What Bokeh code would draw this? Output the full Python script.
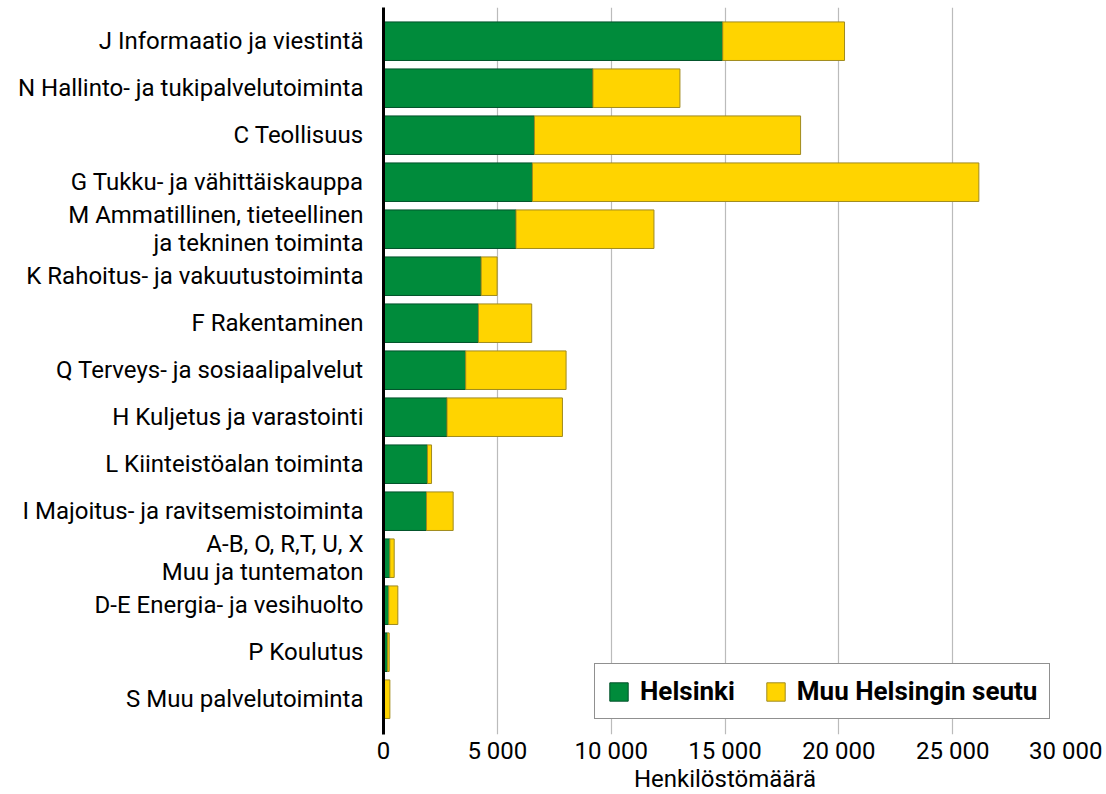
from bokeh.plotting import figure
from bokeh.models import ColumnDataSource, FixedTicker, Range1d, CustomJSTickFormatter
from bokeh.embed import file_html
from bokeh.resources import INLINE

categories = [
    "J Informaatio ja viestintä",
    "N Hallinto- ja tukipalvelutoiminta",
    "C Teollisuus",
    "G Tukku- ja vähittäiskauppa",
    "M Ammatillinen, tieteellinen\nja tekninen toiminta",
    "K Rahoitus- ja vakuutustoiminta",
    "F Rakentaminen",
    "Q Terveys- ja sosiaalipalvelut",
    "H Kuljetus ja varastointi",
    "L Kiinteistöalan toiminta",
    "I Majoitus- ja ravitsemistoiminta",
    "A-B, O, R,T, U, X\nMuu ja tuntematon",
    "D-E Energia- ja vesihuolto",
    "P Koulutus",
    "S Muu palvelutoiminta",
]
helsinki = [14900, 9200, 6630, 6540, 5820, 4290, 4170, 3610, 2790, 1930, 1890, 280, 230, 175, 30]
muu_seutu = [5350, 3820, 11690, 19610, 6060, 700, 2340, 4410, 5070, 180, 1170, 190, 400, 75, 250]
x_ticks = [0, 5000, 10000, 15000, 20000, 25000, 30000]

n = len(categories)
ypos = [n - 1 - i for i in range(n)]
source = ColumnDataSource(dict(y=ypos, hel=helsinki, muu=muu_seutu))

FONT = "Roboto"
FS = "24px"

p = figure(
    output_backend="svg", toolbar_location=None,
    frame_width=683, frame_height=727,
    min_border_left=383, min_border_right=36, min_border_top=7, min_border_bottom=52,
    x_range=Range1d(0, 30000), y_range=Range1d(-0.751, n - 1 + 0.717),
)
p.outline_line_color = None

p.hbar_stack(["hel", "muu"], y="y", height=0.82, source=source,
             fill_color=["#008B3B", "#FFD400"], line_color=["#00522A", "#A08A1E"],
             line_width=1, legend_label=["Helsinki", "Muu Helsingin seutu"])

# x axis
p.xaxis.ticker = FixedTicker(ticks=x_ticks)
p.xaxis.formatter = CustomJSTickFormatter(code="return tick == 0 ? '0' : (Math.floor(tick/1000) + ' 000');")
p.xaxis.axis_line_color = None
p.xaxis.major_tick_line_color = None
p.xaxis.minor_tick_line_color = None
p.xaxis.major_label_text_font = FONT
p.xaxis.major_label_text_font_size = FS
p.xaxis.major_label_text_color = "black"
p.xaxis.major_label_standoff = -4
p.xaxis.axis_label = "Henkilöstömäärä"
p.xaxis.axis_label_text_font = FONT
p.xaxis.axis_label_text_font_size = FS
p.xaxis.axis_label_text_font_style = "normal"
p.xaxis.axis_label_text_color = "black"
p.xaxis.axis_label_standoff = -3

# y axis
p.yaxis.ticker = FixedTicker(ticks=ypos)
p.yaxis.major_label_overrides = {y: c for y, c in zip(ypos, categories)}
p.yaxis.axis_line_color = "black"
p.yaxis.axis_line_width = 3
p.yaxis.major_tick_line_color = None
p.yaxis.minor_tick_line_color = None
p.yaxis.major_label_text_font = FONT
p.yaxis.major_label_text_font_size = FS
p.yaxis.major_label_text_color = "black"
p.yaxis.major_label_text_line_height = 0.98
p.yaxis.major_label_standoff = 14

p.xgrid.grid_line_color = "#BBBBBB"
p.xgrid.grid_line_width = 1.2
p.ygrid.grid_line_color = None

lg = p.legend[0]
lg.orientation = "horizontal"
lg.location = (211, 15)
lg.label_text_font = FONT
lg.label_text_font_size = "26px"
lg.label_text_font_style = "bold"
lg.label_text_color = "black"
lg.glyph_width = 23
lg.glyph_height = 23
lg.label_standoff = 10
lg.spacing = 29
lg.padding = 12
lg.margin = 0
lg.border_line_color = "#222222"
lg.border_line_width = 1
lg.background_fill_alpha = 1
lg.label_height = 23

open("out.html", "w").write(file_html(p, INLINE))
